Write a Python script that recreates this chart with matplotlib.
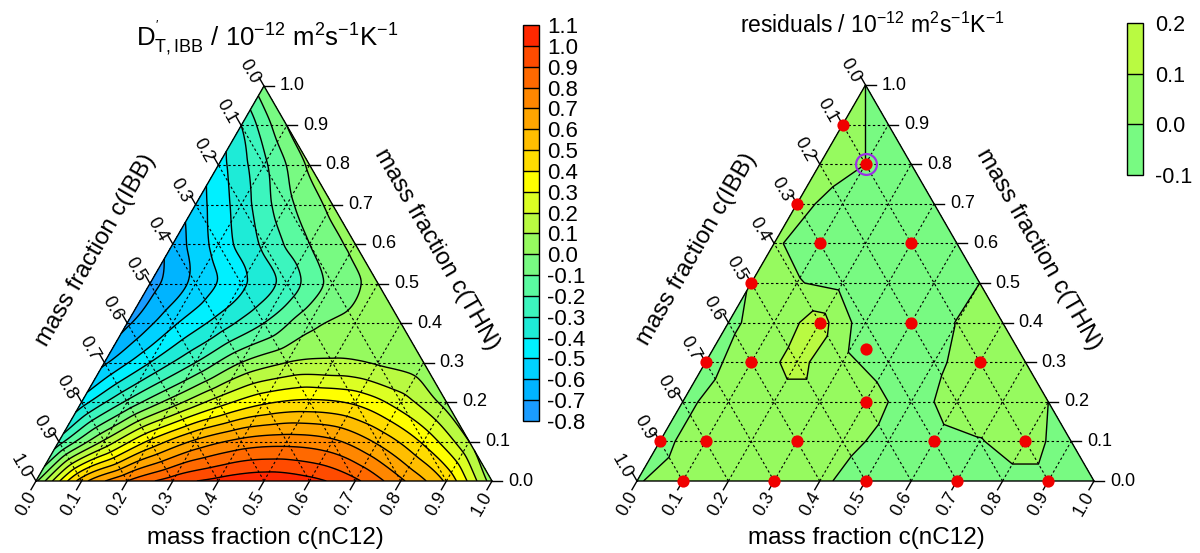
import numpy as np
import matplotlib
matplotlib.use("Agg")
import matplotlib.pyplot as plt
import matplotlib.tri as mtri
from matplotlib.colors import ListedColormap, BoundaryNorm
import matplotlib.cm as cm

plt.rcParams['font.family'] = ['Liberation Sans', 'DejaVu Sans']
plt.rcParams['mathtext.fontset'] = 'custom'
plt.rcParams['mathtext.rm'] = 'Liberation Sans'
plt.rcParams['mathtext.it'] = 'Liberation Sans:italic'
plt.rcParams['mathtext.bf'] = 'Liberation Sans:bold'
plt.rcParams['axes.unicode_minus'] = False
plt.rcParams['contour.negative_linestyle'] = 'solid'

# ---------------- data ----------------
# ternary grid rows: THN mass fraction (b), entries run over nC12 (a) = 0, 0.1, ...
thn_rows = [0.0, 0.1, 0.2, 0.3, 0.4, 0.5, 0.6, 0.7, 0.8, 0.9, 1.0]
dt_ibb_rows = [
    [-0.02, 0.55, 0.80, 0.95, 1.03, 1.07, 1.03, 0.92, 0.72, 0.48, 0.05],
    [-0.25, 0.12, 0.42, 0.62, 0.73, 0.76, 0.72, 0.58, 0.38, 0.10],
    [-0.45, -0.18, 0.05, 0.25, 0.38, 0.42, 0.38, 0.25, 0.06],
    [-0.62, -0.40, -0.20, 0.00, 0.10, 0.12, 0.09, 0.04],
    [-0.72, -0.52, -0.36, -0.20, -0.03, 0.03, 0.03],
    [-0.74, -0.57, -0.42, -0.26, -0.07, 0.03],
    [-0.66, -0.46, -0.28, -0.10, 0.03],
    [-0.55, -0.35, -0.13, 0.03],
    [-0.44, -0.22, 0.02],
    [-0.30, 0.00],
    [-0.03],
]
resid_rows = [
    [-0.005, 0.03, 0.04, 0.04, 0.02, -0.05, -0.05, -0.04, -0.03, -0.03, -0.02],
    [-0.02, 0.04, 0.05, 0.05, 0.03, -0.03, -0.03, -0.005, 0.04, -0.05],
    [-0.02, 0.04, 0.06, 0.06, 0.04, -0.04, 0.04, 0.05, 0.0],
    [-0.03, 0.05, 0.13, 0.02, -0.04, -0.02, 0.05, 0.03],
    [-0.02, 0.05, 0.14, -0.06, -0.04, 0.002, 0.03],
    [0.005, 0.006, -0.03, -0.04, -0.04, 0.0],
    [0.01, -0.04, -0.04, -0.04, -0.03],
    [0.02, -0.03, -0.04, -0.03],
    [0.04, 0.0, -0.04],
    [0.03, -0.03],
    [0.0],
]
# measured compositions (nC12, THN)
pts_nc12 = [0.0, 0.1, 0.0, 0.1, 0.3, 0.0, 0.2, 0.4, 1/3, 0.0, 0.1, 0.6, 0.4,
            0.0, 0.1, 0.3, 0.6, 0.8, 0.1, 0.3, 0.5, 0.7, 0.9]
pts_thn = [0.9, 0.8, 0.7, 0.6, 0.6, 0.5, 0.4, 0.4, 1/3, 0.3, 0.3, 0.3, 0.2,
           0.1, 0.1, 0.1, 0.1, 0.1, 0.0, 0.0, 0.0, 0.0, 0.0]
highlight_nc12, highlight_thn = 0.1, 0.8

levels_dt = [i / 10 for i in range(-8, 12)]
levels_res = [-0.1, 0.0, 0.1, 0.2]
palette = ['#1a9cff', '#00b4ff', '#00d2ff', '#00f0ff', '#1eebd7', '#3cf5be',
           '#5afaa0', '#78fa82', '#96fa5f', '#b9fa41', '#dcff23', '#ffff00',
           '#ffdc00', '#ffbe00', '#ffa500', '#ff8700', '#ff6900', '#ff4b00',
           '#ff2800']
tick_vals = [i / 10 for i in range(11)]
tick_txt = ['%.1f' % v for v in tick_vals]

H = np.sqrt(3) / 2


def tern(a, b):
    a = np.asarray(a, float)
    b = np.asarray(b, float)
    return a + b / 2, b * H


def grid_field(rows):
    A, B, Z = [], [], []
    for b, row in zip(thn_rows, rows):
        for j, v in enumerate(row):
            A.append(j / 10)
            B.append(b)
            Z.append(v)
    X, Y = tern(A, B)
    return X, Y, np.array(Z)


def frame(ax):
    ax.set_xlim(0, 1)
    ax.set_ylim(0, H)
    ax.axis('off')
    dash = dict(color='black', lw=0.8, ls=(0, (2.2, 2.2)), zorder=3)
    for v in tick_vals[1:-1]:
        x, y = tern([0, 1 - v], [v, v]); ax.plot(x, y, **dash)
        x, y = tern([v, v], [0, 1 - v]); ax.plot(x, y, **dash)
        x, y = tern([1 - v, 0], [0, 1 - v]); ax.plot(x, y, **dash)
    x, y = tern([0, 1, 0, 0], [0, 0, 1, 0])
    ax.plot(x, y, color='black', lw=1.0, zorder=4, clip_on=False)
    L = 0.022
    for v, t in zip(tick_vals, tick_txt):
        # bottom: nC12
        px, py = tern(v, 0)
        ax.plot([px, px - 0.5 * L], [py, py - H * L], color='black', lw=1, clip_on=False)
        ax.text(px - 0.021, py - 0.05, t, rotation=60, ha='center', va='center',
                fontsize=13)
        # right: THN
        px, py = tern(1 - v, v)
        ax.plot([px, px + L], [py, py], color='black', lw=1, clip_on=False)
        ax.text(px + 0.035, py, t, ha='left', va='center', fontsize=13)
        # left: IBB
        px, py = tern(0, 1 - v)
        ax.plot([px, px - 0.5 * L], [py, py + H * L], color='black', lw=1, clip_on=False)
        ax.text(px - 0.033, py + 0.031, t, rotation=-60, ha='center', va='center',
                fontsize=13)
    ax.text(0.502, -0.125, 'mass fraction c(nC12)', ha='center', va='center', fontsize=17.5)
    ax.text(0.132, 0.507, 'mass fraction c(IBB)', ha='center', va='center',
            rotation=60, fontsize=17.5)
    ax.text(0.878, 0.507, 'mass fraction c(THN)', ha='center', va='center',
            rotation=-60, fontsize=17.5)


fig = plt.figure(figsize=(12, 5.53), dpi=100)
axL = fig.add_axes([36 / 1200, 72 / 553, 456 / 1200, 395 / 553])
axR = fig.add_axes([637 / 1200, 72 / 553, 457 / 1200, 396 / 553])

# ---- left: D'_T,IBB ----
cmap = ListedColormap(palette)
norm = BoundaryNorm(levels_dt, cmap.N)
X, Y, Z = grid_field(dt_ibb_rows)
tri = mtri.Triangulation(X, Y)
interp = mtri.CubicTriInterpolator(tri, Z, kind='geom')
tri_r, z_r = mtri.UniformTriRefiner(tri).refine_field(Z, triinterpolator=interp, subdiv=4)
axL.tricontourf(tri_r, z_r, levels=levels_dt, cmap=cmap, norm=norm, extend='both', zorder=1)
axL.tricontour(tri_r, z_r, levels=levels_dt[1:-1], colors='black', linewidths=1.0,
               linestyles='solid', zorder=2)
frame(axL)

# ---- right: residuals ----
cmapR = ListedColormap(palette[7:10])
normR = BoundaryNorm(levels_res, cmapR.N)
Xr, Yr, Zr = grid_field(resid_rows)
triR = mtri.Triangulation(Xr, Yr)
axR.tricontourf(triR, Zr, levels=levels_res, cmap=cmapR, norm=normR, extend='both', zorder=1)
axR.tricontour(triR, Zr, levels=[0.0, 0.1], colors='black', linewidths=1.0,
               linestyles='solid', zorder=2)
frame(axR)
px, py = tern(pts_nc12, pts_thn)
axR.plot(px, py, 'o', color='#f00000', ms=8.8, mec='none', zorder=6, clip_on=False)
hx, hy = tern(highlight_nc12, highlight_thn)
axR.plot(hx, hy, 'o', mfc='none', mec='#9b30e6', mew=1.6, ms=15, zorder=7)

# ---- colorbars ----
caxL = fig.add_axes([523 / 1200, (553 - 421) / 553, 16 / 1200, 396 / 553])
cbL = fig.colorbar(cm.ScalarMappable(norm=norm, cmap=cmap), cax=caxL, ticks=levels_dt,
                   drawedges=True)
cbL.set_ticklabels(['%.1f' % v for v in levels_dt])
caxL.tick_params(length=0, labelsize=16, pad=6)
cbL.outline.set_linewidth(1.0)
cbL.dividers.set_linewidth(1.0)

caxR = fig.add_axes([1127 / 1200, (553 - 175) / 553, 15.5 / 1200, 152 / 553])
cbR = fig.colorbar(cm.ScalarMappable(norm=normR, cmap=cmapR), cax=caxR, ticks=levels_res,
                   drawedges=True)
cbR.set_ticklabels(['%.1f' % v for v in levels_res])
caxR.tick_params(length=0, labelsize=15.5, pad=9)
cbR.outline.set_linewidth(1.0)
cbR.dividers.set_linewidth(1.0)

fig.text(267 / 1200, 1 - 38 / 553,
         r"D$^{'}_{\mathrm{T,IBB}}$ / 10$^{-12}$ m$^{2}$s$^{-1}$K$^{-1}$",
         ha='center', va='center', fontsize=18.5)
fig.text(872 / 1200, 1 - 25 / 553,
         r"residuals / 10$^{-12}$ m$^{2}$s$^{-1}$K$^{-1}$",
         ha='center', va='center', fontsize=16.5)

fig.savefig('out.png', dpi=100, facecolor='white')
